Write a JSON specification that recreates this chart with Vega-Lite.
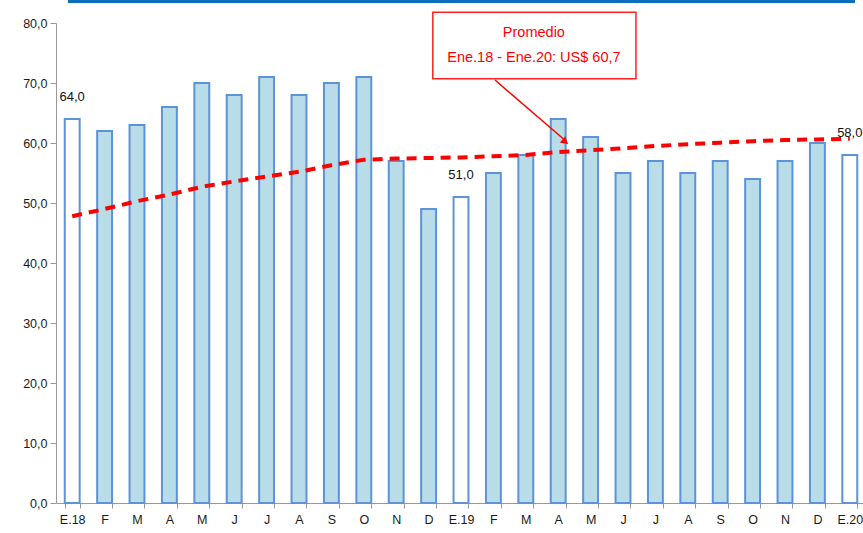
{
  "$schema": "https://vega.github.io/schema/vega-lite/v6.json",
  "autosize": "none",
  "width": 810,
  "height": 480,
  "padding": {"left": 56, "top": 23, "right": 0, "bottom": 30},
  "background": "white",
  "config": {
    "locale": {"number": {"decimal": ",", "thousands": ".", "grouping": [3], "currency": ["US$", ""]}},
    "view": {"stroke": null},
    "axis": {"labelFont": "Liberation Sans", "labelFontSize": 12.5, "labelColor": "#1a1a1a", "domainColor": "#9a9a9a", "tickColor": "#9a9a9a", "grid": false, "title": null}
  },
  "layer": [
    {
      "data": {"values": [
        {"k": "E.18|18", "v": 64, "t": 47.8, "ene": true},
        {"k": "F|18", "v": 62, "t": 49.0, "ene": false},
        {"k": "M|18a", "v": 63, "t": 50.3, "ene": false},
        {"k": "A|18a", "v": 66, "t": 51.4, "ene": false},
        {"k": "M|18b", "v": 70, "t": 52.7, "ene": false},
        {"k": "J|18a", "v": 68, "t": 53.6, "ene": false},
        {"k": "J|18b", "v": 71, "t": 54.4, "ene": false},
        {"k": "A|18b", "v": 68, "t": 55.2, "ene": false},
        {"k": "S|18", "v": 70, "t": 56.3, "ene": false},
        {"k": "O|18", "v": 71, "t": 57.2, "ene": false},
        {"k": "N|18", "v": 57, "t": 57.4, "ene": false},
        {"k": "D|18", "v": 49, "t": 57.5, "ene": false},
        {"k": "E.19|19", "v": 51, "t": 57.6, "ene": true},
        {"k": "F|19", "v": 55, "t": 57.8, "ene": false},
        {"k": "M|19a", "v": 58, "t": 58.0, "ene": false},
        {"k": "A|19a", "v": 64, "t": 58.5, "ene": false},
        {"k": "M|19b", "v": 61, "t": 58.8, "ene": false},
        {"k": "J|19a", "v": 55, "t": 59.1, "ene": false},
        {"k": "J|19b", "v": 57, "t": 59.5, "ene": false},
        {"k": "A|19b", "v": 55, "t": 59.8, "ene": false},
        {"k": "S|19", "v": 57, "t": 60.05, "ene": false},
        {"k": "O|19", "v": 54, "t": 60.3, "ene": false},
        {"k": "N|19", "v": 57, "t": 60.5, "ene": false},
        {"k": "D|19", "v": 60, "t": 60.6, "ene": false},
        {"k": "E.20|20", "v": 58, "t": 60.7, "ene": true}
      ]},
      "encoding": {
        "x": {"field": "k", "type": "ordinal", "sort": null,
          "scale": {"paddingInner": 0.54, "paddingOuter": 0.27},
          "axis": {"labelExpr": "isValid(datum.value) ? split(datum.value, '|')[0] : ''", "labelAngle": 0, "tickBand": "extent", "tickSize": 5, "labelPadding": 5}},
        "y": {"type": "quantitative", "scale": {"domain": [0, 80], "nice": false},
          "axis": {"values": [0, 10, 20, 30, 40, 50, 60, 70, 80], "format": ".1f", "tickSize": 6, "labelPadding": 3}}
      },
      "layer": [
        {
          "mark": {"type": "bar", "stroke": "#5d93d8", "strokeWidth": 2},
          "encoding": {
            "y": {"field": "v", "type": "quantitative"},
            "fill": {"condition": {"test": "datum.ene", "value": "#ffffff"}, "value": "#b8dce8"}
          }
        },
        {
          "mark": {"type": "line", "color": "#ff0000", "strokeWidth": 4, "strokeDash": [10, 7]},
          "encoding": {"y": {"field": "t", "type": "quantitative"}}
        },
        {
          "transform": [{"filter": "datum.ene"}],
          "mark": {"type": "text", "dy": -22, "font": "Liberation Sans", "fontSize": 13, "color": "#111"},
          "encoding": {
            "y": {"field": "v", "type": "quantitative"},
            "text": {"field": "v", "type": "quantitative", "format": ".1f"}
          }
        }
      ]
    },
    {
      "data": {"values": [
        {"kind": "box", "x": 11.63, "x2": 17.9, "y": 81.8, "y2": 70.7},
        {"kind": "t1", "x": 14.75, "y": 78.3, "label": "Promedio"},
        {"kind": "t2", "x": 14.75, "y": 74.1, "label": "Ene.18 - Ene.20: US$ 60,7"},
        {"kind": "arrow", "x": 13.55, "x2": 15.7, "y": 70.5, "y2": 60.5},
        {"kind": "head", "x": 15.72, "y": 60.2},
        {"kind": "top", "x": 0.37, "x2": 24.66, "y": 83.6}
      ]},
      "encoding": {
        "x": {"field": "x", "type": "quantitative", "scale": {"domain": [0, 25], "nice": false, "zero": false}, "axis": null},
        "y": {"field": "y", "type": "quantitative", "scale": {"domain": [0, 80], "nice": false}}
      },
      "layer": [
        {
          "transform": [{"filter": "datum.kind == 'top'"}],
          "mark": {"type": "rule", "color": "#0a6ebd", "strokeWidth": 3},
          "encoding": {"x2": {"field": "x2"}}
        },
        {
          "transform": [{"filter": "datum.kind == 'box'"}],
          "mark": {"type": "rect", "fill": "white", "stroke": "#ff2020", "strokeWidth": 1.5},
          "encoding": {"x2": {"field": "x2"}, "y2": {"field": "y2"}}
        },
        {
          "transform": [{"filter": "datum.kind == 't1' || datum.kind == 't2'"}],
          "mark": {"type": "text", "font": "Liberation Sans", "fontSize": 14.5, "color": "#ff0000"},
          "encoding": {"text": {"field": "label"}}
        },
        {
          "transform": [{"filter": "datum.kind == 'arrow'"}],
          "mark": {"type": "rule", "color": "#ff0000", "strokeWidth": 1.5},
          "encoding": {"x2": {"field": "x2"}, "y2": {"field": "y2"}}
        },
        {
          "transform": [{"filter": "datum.kind == 'head'"}],
          "mark": {"type": "point", "shape": "triangle-right", "angle": 41, "size": 70, "filled": true, "color": "#ff0000", "opacity": 1},
          "encoding": {}
        }
      ]
    }
  ],
  "resolve": {"scale": {"x": "independent"}, "axis": {"x": "independent"}}
}
